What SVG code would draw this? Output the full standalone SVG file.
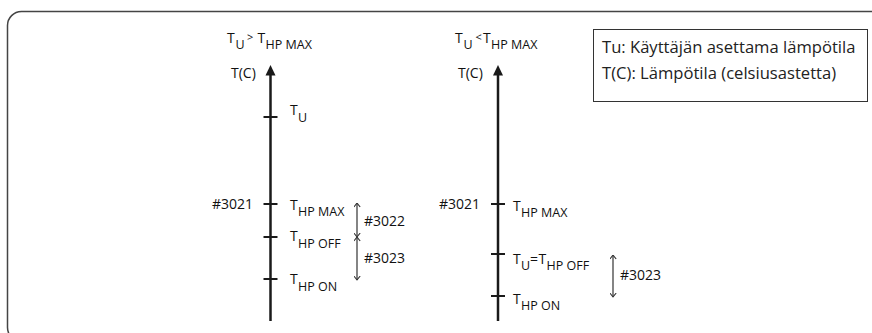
<svg xmlns="http://www.w3.org/2000/svg" width="872" height="333" viewBox="0 0 872 333">
<defs>
<style>
text{font-family:"Open Sans","Liberation Sans",sans-serif;fill:#111;font-size:14px}
.sub{font-size:12.5px}
.sm{font-size:11px}
.leg{font-size:16.6px;fill:#222}
.axis{stroke:#1a1a1a;stroke-width:2.5;fill:none}
.tick{stroke:#1a1a1a;stroke-width:2;fill:none}
.dim{stroke:#333;stroke-width:1.2;fill:none;marker-start:url(#chev);marker-end:url(#chev)}
</style>
<marker id="chev" viewBox="0 0 10 10" refX="9" refY="5" markerWidth="5" markerHeight="7" markerUnits="userSpaceOnUse" orient="auto-start-reverse" preserveAspectRatio="none">
<path d="M1,0.5 L9,5 L1,9.5" fill="none" stroke="#333" stroke-width="1.6"/>
</marker>
</defs>
<rect id="frame" x="7.5" y="11.5" width="900" height="330" rx="14" ry="14" fill="none" stroke="#444" stroke-width="1.5"/>

<g id="legend">
<rect x="593.5" y="29.5" width="274" height="72" fill="#fff" stroke="#333" stroke-width="1"/>
<text class="leg" x="602" y="53">Tu: Käyttäjän asettama lämpötila</text>
<text class="leg" x="602" y="79">T(C): Lämpötila (celsiusastetta)</text>
</g>

<g id="left-panel">
<g id="left-title">
<text x="227" y="43">T</text><text class="sub" x="235.5" y="49">U</text>
<text class="sm" x="247" y="41">&gt;</text>
<text x="257.5" y="43">T</text><text class="sub" x="265.5" y="49">HP MAX</text>
</g>
<g id="left-axis">
<text x="231" y="78">T(C)</text>
<line class="axis" x1="270.5" y1="73" x2="270.5" y2="321"/>
<polygon points="270.5,65 265.5,75.5 275.5,75.5" fill="#1a1a1a"/>
<line class="tick" x1="263.5" y1="117" x2="277.5" y2="117"/>
<line class="tick" x1="263.5" y1="204" x2="277.5" y2="204"/>
<line class="tick" x1="263.5" y1="237" x2="277.5" y2="237"/>
<line class="tick" x1="263.5" y1="279" x2="277.5" y2="279"/>
</g>
<g id="left-tu"><text x="290" y="115">T</text><text class="sub" x="298" y="122">U</text></g>
<g id="left-hpmax"><text x="212" y="209">#3021</text><text x="290" y="210">T</text><text class="sub" x="298" y="216">HP MAX</text></g>
<g id="left-hpoff"><text x="290" y="241">T</text><text class="sub" x="298" y="248">HP OFF</text></g>
<g id="left-hpon"><text x="290" y="284">T</text><text class="sub" x="298" y="291">HP ON</text></g>
<text x="364" y="226">#3022</text>
<text x="364" y="263">#3023</text>
</g>

<g id="right-panel">
<g id="right-title">
<text x="455" y="43">T</text><text class="sub" x="463.5" y="49">U</text>
<text class="sm" x="475.5" y="41">&lt;</text>
<text x="483" y="43">T</text><text class="sub" x="491" y="49">HP MAX</text>
</g>
<g id="right-axis">
<text x="458" y="78">T(C)</text>
<line class="axis" x1="498" y1="73" x2="498" y2="321"/>
<polygon points="498,65 493,75.5 503,75.5" fill="#1a1a1a"/>
<line class="tick" x1="491" y1="204" x2="505" y2="204"/>
<line class="tick" x1="491" y1="254" x2="505" y2="254"/>
<line class="tick" x1="491" y1="296" x2="505" y2="296"/>
</g>
<g id="right-hpmax"><text x="439" y="209">#3021</text><text x="513" y="211">T</text><text class="sub" x="521" y="217">HP MAX</text></g>
<g id="right-hpoff"><text x="513" y="264">T</text><text class="sub" x="521" y="270">U</text><text x="530" y="264">=</text><text x="538.5" y="264">T</text><text class="sub" x="546.5" y="270">HP OFF</text></g>
<g id="right-hpon"><text x="513" y="304">T</text><text class="sub" x="521" y="310">HP ON</text></g>
<text x="620" y="280">#3023</text>
</g>

<g id="connectors">
<line class="dim" x1="357" y1="203" x2="357" y2="237"/>
<line class="dim" x1="357" y1="237" x2="357" y2="280"/>
<line class="dim" x1="613" y1="255" x2="613" y2="297"/>
</g>
</svg>
